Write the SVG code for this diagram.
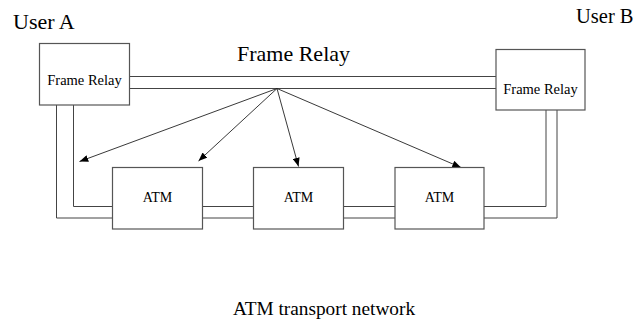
<svg xmlns="http://www.w3.org/2000/svg" width="638" height="322" viewBox="0 0 638 322">
<defs>
<marker id="ah" viewBox="0 0 10 8" refX="10" refY="4" markerWidth="9" markerHeight="7" markerUnits="userSpaceOnUse" orient="auto">
<path d="M0,0 L10,4 L0,8 z" fill="#000"/>
</marker>
<style>
.box{fill:#fff;stroke:#555;stroke-width:1.2}
.ln{fill:none;stroke:#444;stroke-width:1}
.ar{fill:none;stroke:#222;stroke-width:0.9;marker-end:url(#ah)}
.t{font-family:"Liberation Serif","Times New Roman",serif;fill:#000}
</style>
</defs>
<rect width="638" height="322" fill="#fff"/>
<g id="connectors">
<path class="ln" d="M129.5,76.5 H496 M129.5,88.5 H496"/>
<path class="ln" d="M73.5,105 V206.5 H112.5 M56.5,105 V218 H112.5"/>
<path class="ln" d="M202.5,206.5 H253.5 M202.5,218 H253.5"/>
<path class="ln" d="M343.5,206.5 H395 M343.5,218 H395"/>
<path class="ln" d="M484,206.5 H546 V110 M484,218 H557 V110"/>
<line class="ar" x1="277" y1="88.5" x2="79.5" y2="161.5"/>
<line class="ar" x1="277" y1="88.5" x2="198.5" y2="161"/>
<line class="ar" x1="277" y1="88.5" x2="298.5" y2="166.5"/>
<line class="ar" x1="277" y1="88.5" x2="461" y2="167.5"/>
</g>
<g id="userA"><text class="t" x="13" y="29" font-size="22">User A</text></g>
<g id="userB"><text class="t" x="576" y="23" font-size="20.5">User B</text></g>
<g id="title"><text class="t" x="293.5" y="61" font-size="22" text-anchor="middle">Frame Relay</text></g>
<g id="frA"><rect class="box" x="39.5" y="43.5" width="90" height="61.5"/><text class="t" x="84.5" y="85" font-size="14.5" text-anchor="middle">Frame Relay</text></g>
<g id="frB"><rect class="box" x="496" y="49.5" width="89" height="60.5"/><text class="t" x="540.5" y="94" font-size="14.5" text-anchor="middle">Frame Relay</text></g>
<g id="atm1"><rect class="box" x="112.5" y="167.5" width="90" height="61.5"/><text class="t" x="157.5" y="202" font-size="14" text-anchor="middle">ATM</text></g>
<g id="atm2"><rect class="box" x="253.5" y="167.5" width="90" height="61.5"/><text class="t" x="298.5" y="202" font-size="14" text-anchor="middle">ATM</text></g>
<g id="atm3"><rect class="box" x="395" y="167.5" width="89" height="61.5"/><text class="t" x="439.5" y="202" font-size="14" text-anchor="middle">ATM</text></g>
<g id="bottom"><text class="t" x="324" y="315" font-size="19.3" text-anchor="middle">ATM transport network</text></g>
</svg>
